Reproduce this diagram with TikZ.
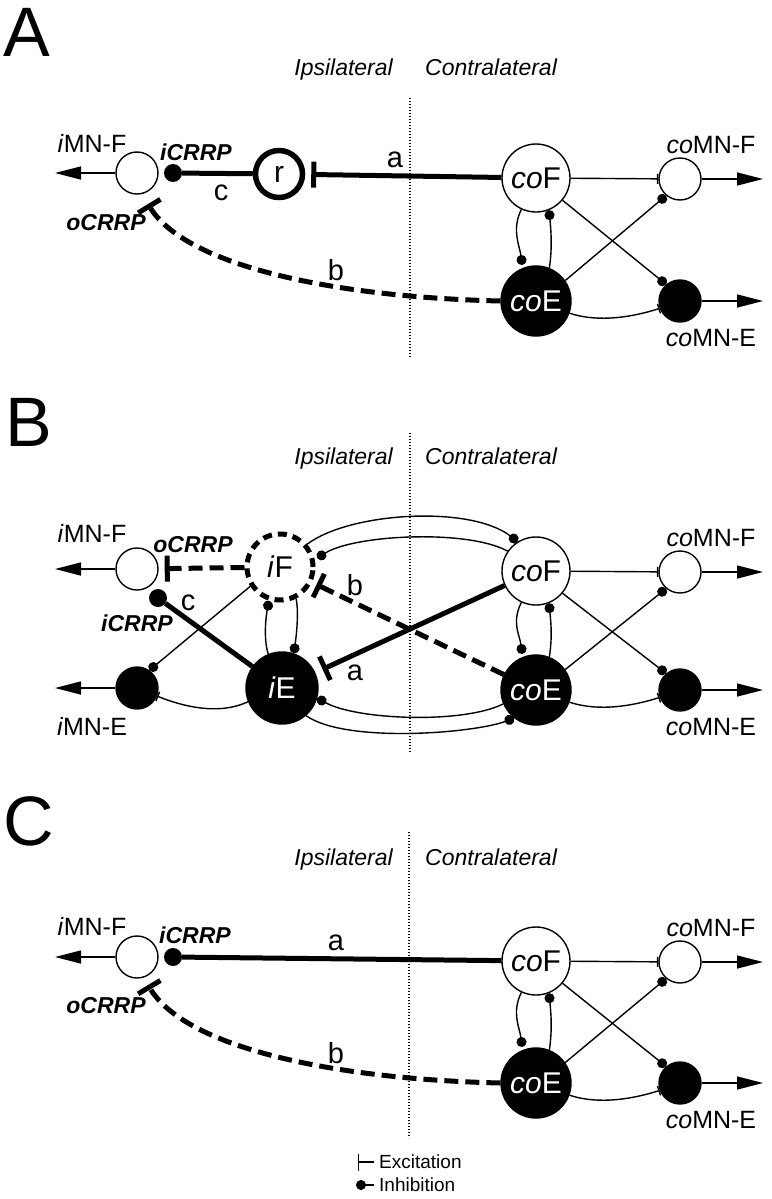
\documentclass[tikz,border=0pt]{standalone}
\usepackage{fontspec}
\setmainfont{Liberation Sans}
\usetikzlibrary{arrows.meta}
\newcommand\fsz[1]{\fontsize{#1}{#1}\selectfont}
\tikzset{
 thinline/.style={line width=1.4pt},
 thickline/.style={line width=5pt},
 dashline/.style={line width=5pt, dash pattern=on 14pt off 7pt},
 cell/.style={circle, draw, line width=1.4pt, fill=white, minimum size=68pt, inner sep=0pt, font=\fsz{30pt}},
 cellB/.style={circle, draw, line width=1.4pt, fill=black, text=white, minimum size=70pt, inner sep=0pt, font=\fsz{30pt}},
 mnW/.style={circle, draw, line width=1.4pt, fill=white, minimum size=42pt, inner sep=0pt},
 mnB/.style={circle, draw, line width=1.4pt, fill=black, minimum size=42pt, inner sep=0pt},
 dotnode/.style={circle, fill=black, minimum size=18pt, inner sep=0pt},
 lab/.style={inner sep=0pt, font=\fsz{25pt}},
 boldlab/.style={inner sep=0pt, font=\fsz{23pt}\bfseries\itshape},
 side/.style={inner sep=0pt, font=\fsz{23pt}\itshape},
 letter/.style={inner sep=0pt, font=\fsz{29pt}},
 panel/.style={inner sep=0pt, font=\fsz{70pt}, anchor=base west},
 outarrow/.style={thinline, -{Triangle[length=26pt,width=13pt]}},
 inh/.style={thinline, -{Circle[length=10pt]}},
 exc/.style={thinline, -{Bar[width=10pt]}},
 excT/.style={-{Bar[width=26pt]}},
 divide/.style={line width=1.2pt, dash pattern=on 1.2pt off 1.8pt},
}
\newcommand\contraside[3]{%
 \node[cell] (coF#1) at (536,{-#2}) {\textit{co}F};
 \node[cellB] (coE#1) at (536,{-#3}) {\textit{co}E};
 \node[mnW] (coMNF#1) at (680,{-#2-1}) {};
 \node[mnB] (coMNE#1) at (680,{-#3}) {};
 \coordinate (outF#1) at (763,{-#2-1});
 \coordinate (outE#1) at (763,{-#3});
 \node[lab, anchor=base] (lcoMNF#1) at (711,{-#2+25}) {\textit{co}MN-F};
 \node[lab, anchor=base] (lcoMNE#1) at (711,{-#3-45}) {\textit{co}MN-E};
 \draw[outarrow] (coMNF#1) -- (outF#1);
 \draw[outarrow] (coMNE#1) -- (outE#1);
 \draw[exc] (coF#1) -- (coMNF#1);
 \draw[exc] (coE#1.-20) .. controls +(30,-10) and +(-25,-8) .. (coMNE#1.200);
 \draw[inh] (coF#1.-40) -- (coMNE#1.130);
 \draw[inh] (coE#1.35) -- (coMNF#1.-130);
 \draw[inh, shorten >=3pt] (coF#1.-115) .. controls +(-10,-20) and +(-3,22) .. (coE#1.112);
 \draw[inh] (coE#1.68) .. controls +(3,20) and +(2,-20) .. (coF#1.-68);
}
\begin{document}
\begin{tikzpicture}[x=1pt,y=1pt]
\fill[white] (0,0) rectangle (771,-1199);
\useasboundingbox (0,0) rectangle (771,-1199);

% ---------------- Panel A ----------------
\node[panel] (pA) at (3,-57) {A};
\node[side, anchor=base east] (ipA) at (393,-75) {Ipsilateral};
\node[side, anchor=base west] (ctA) at (425,-75) {Contralateral};
\coordinate (dvAt) at (410,-98);
\coordinate (dvAb) at (410,-357);
\draw[divide] (dvAt) -- (dvAb);
\node[mnW] (iMNFA) at (137,-173) {};
\coordinate (outIA) at (55,-173);
\node[lab, anchor=base] (liMNFA) at (92,-152) {\textit{i}MN-F};
\node[dotnode] (iCA) at (173,-173) {};
\node[circle, draw, line width=5.5pt, minimum size=47pt, inner sep=0pt, font=\fsz{30pt}] (rA) at (279,-174) {r};
\coordinate (oA) at (148,-204);
\node[boldlab, anchor=base] (liCA) at (196,-160) {iCRRP};
\node[boldlab, anchor=base] (loCA) at (106,-230) {oCRRP};
\node[letter, anchor=base] (lcA) at (221,-200) {c};
\node[letter, anchor=base] (laA) at (395,-167) {a};
\node[letter, anchor=base] (lbA) at (336,-280) {b};
\contraside{A}{178}{301}
\draw[outarrow] (iMNFA) -- (outIA);
\draw[thickline] (iCA) -- (rA);
\draw[thickline, excT, shorten >=6pt] (coFA) -- (rA);
\draw[dashline, excT] (coEA.west) .. controls (330,-297) and (185,-265) .. (oA);

% ---------------- Panel B ----------------
\node[panel] (pB) at (5,-446) {B};
\node[side, anchor=base east] (ipB) at (393,-464) {Ipsilateral};
\node[side, anchor=base west] (ctB) at (425,-464) {Contralateral};
\coordinate (dvBt) at (410,-433);
\coordinate (dvBb) at (410,-753);
\draw[divide] (dvBt) -- (dvBb);
\node[mnW] (iMNFB) at (137,-569) {};
\node[mnB] (iMNEB) at (137,-688) {};
\coordinate (outIFB) at (55,-569);
\coordinate (outIEB) at (55,-688);
\node[lab, anchor=base] (liMNFB) at (92,-542) {\textit{i}MN-F};
\node[lab, anchor=base] (liMNEB) at (92,-735) {\textit{i}MN-E};
\node[circle, draw, line width=5pt, dash pattern=on 9pt off 6pt, fill=white, minimum size=66pt, inner sep=0pt, font=\fsz{30pt}] (iFB) at (280,-567) {\textit{i}F};
\node[cellB, minimum size=72pt] (iEB) at (282,-688) {\textit{i}E};
\node[dotnode] (iCB) at (158,-598) {};
\node[boldlab, anchor=base] (loCB) at (193,-552) {oCRRP};
\node[boldlab, anchor=base] (liCB) at (137,-631) {iCRRP};
\node[letter, anchor=base] (lcB) at (188,-610) {c};
\node[letter, anchor=base] (laB) at (355,-680) {a};
\node[letter, anchor=base] (lbB) at (355,-595) {b};
\contraside{B}{571}{690}
\draw[outarrow] (iMNFB) -- (outIFB);
\draw[outarrow] (iMNEB) -- (outIEB);
\draw[dashline, excT, shorten >=6pt] (iFB) -- (iMNFB);
\draw[thickline] (iCB) -- (iEB);
\draw[thickline, excT, shorten >=8pt] (coFB) -- (iEB);
\draw[dashline, excT, shorten >=5pt] (coEB) -- (iFB);
\draw[inh] (iEB.112) .. controls +(-5,15) and +(-3,-15) .. (iFB.-108);
\draw[inh] (iFB.-63) .. controls +(3,-15) and +(2,15) .. (iEB.71);
\draw[inh] (iFB.-147) -- (iMNEB.55);
\draw[exc] (iEB.-158) .. controls +(-30,-14) and +(25,-10) .. (iMNEB.-22);
\draw[inh] (iFB.40) .. controls (350,-512) and (470,-505) .. (coFB.122);
\draw[inh, shorten >=3pt] (coFB.145) .. controls +(-40,22) and +(40,25) .. (iFB.12);
\draw[inh] (coEB.-157) .. controls +(-40,-20) and +(40,-22) .. (iEB.-16);
\draw[inh] (iEB.-49) .. controls +(40,-28) and +(-40,-15) .. (coEB.-128);

% ---------------- Panel C ----------------
\node[panel] (pC) at (3,-845) {C};
\node[side, anchor=base east] (ipC) at (393,-865) {Ipsilateral};
\node[side, anchor=base west] (ctC) at (425,-865) {Contralateral};
\coordinate (dvCt) at (409,-832);
\coordinate (dvCb) at (409,-1138);
\draw[divide] (dvCt) -- (dvCb);
\node[mnW] (iMNFC) at (137,-957) {};
\coordinate (outIC) at (55,-957);
\node[lab, anchor=base] (liMNFC) at (92,-935) {\textit{i}MN-F};
\node[dotnode] (iCC) at (173,-957) {};
\coordinate (oC) at (148,-985);
\node[boldlab, anchor=base] (liCC) at (195,-943) {iCRRP};
\node[boldlab, anchor=base] (loCC) at (106,-1013) {oCRRP};
\node[letter, anchor=base] (laC) at (336,-950) {a};
\node[letter, anchor=base] (lbC) at (336,-1063) {b};
\contraside{C}{961}{1083}
\draw[outarrow] (iMNFC) -- (outIC);
\draw[thickline] (iCC) -- (coFC);
\draw[dashline, excT] (coEC.west) .. controls (330,-1079) and (185,-1047) .. (oC);

% ---------------- Legend ----------------
\node[anchor=west, inner sep=0pt, font=\fsz{19pt}] (lex) at (379,-1162) {Excitation};
\node[anchor=west, inner sep=0pt, font=\fsz{19pt}] (lin) at (379,-1185) {Inhibition};
\coordinate (exE) at (358,-1162);
\coordinate (inE) at (356,-1185);
\draw[thinline, -{Bar[width=17pt]}, shorten <=5pt] (lex.west) -- (exE);
\draw[inh, shorten <=5pt] (lin.west) -- (inE);
\end{tikzpicture}
\end{document}
